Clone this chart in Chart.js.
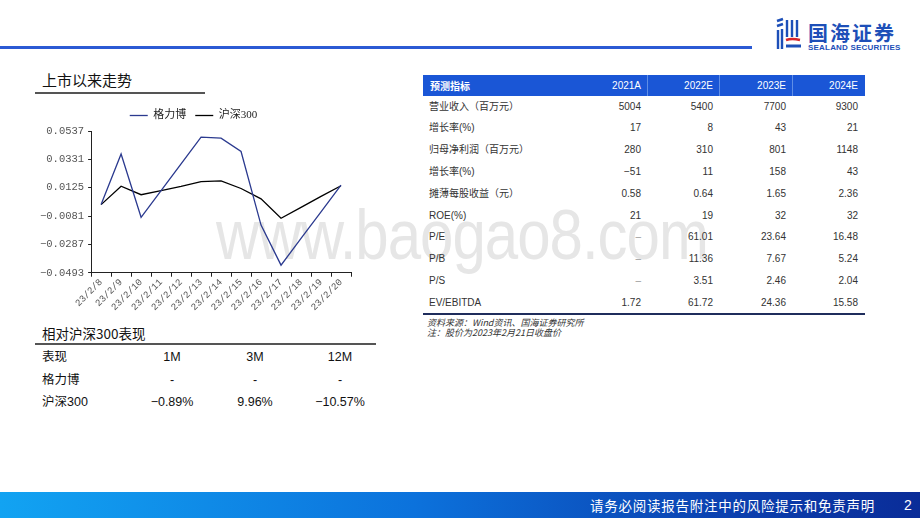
<!DOCTYPE html>
<html>
<head>
<meta charset="utf-8">
<script src="https://cdn.jsdelivr.net/npm/chart.js@4.4.1/dist/chart.umd.min.js"></script>
<style>
  body { margin: 0; }
  #page {
    position: relative; width: 920px; height: 518px; overflow: hidden; background: #fff;
    font-family: 'Liberation Sans', 'Noto Sans CJK SC', sans-serif; color: #222;
  }
  .abs { position: absolute; white-space: nowrap; }
  #topline { left: 0; top: 46px; width: 752px; height: 3px; background: #2b5ad4; }
  #watermark {
    left: 216px; top: 194px; font-size: 60px; color: #e6e6e6; letter-spacing: -1px;
    font-family: 'Liberation Sans', sans-serif; transform: scaleY(1.18); transform-origin: left top;
  }
  #title1 { left: 42px; top: 70px; font-size: 15px; font-family: 'Noto Sans CJK SC'; color: #111; line-height: 20px; }
  #line1 { left: 35px; top: 92px; width: 170px; height: 1.5px; background: #555; }
  #chartbox { left: 36px; top: 101px; width: 321px; height: 212px; }
  #title2 { left: 42px; top: 324px; font-size: 13.5px; font-family: 'Noto Sans CJK SC'; color: #111; line-height: 18px; }
  #line2 { left: 35px; top: 343px; width: 341px; height: 1.5px; background: #555; }
  .perf { font-size: 12.5px; color: #111; line-height: 16px; }
  #ftable { left: 423px; top: 75px; width: 442px; }
  .hdr { position: absolute; top: 0; height: 21px; background: #1a56d6; }
  .htx { position: absolute; top: 0; line-height: 21px; font-size: 10px; color: #fff; }
  .cell { position: absolute; font-size: 10px; color: #333; line-height: 14px; }
  #botline { left: 423px; top: 313px; width: 442px; height: 2px; background: #1f2d5c; }
  .note { left: 427px; font-size: 9px; font-style: italic; color: #333; line-height: 11px; font-family: 'Noto Sans CJK SC'; }
  #footer {
    left: 0; top: 492px; width: 920px; height: 26px;
    background: linear-gradient(90deg, #12a3f2 0%, #0c72dc 45%, #0b3fae 80%, #0a2c98 100%);
  }
  #foottext { left: 590px; top: 496px; font-size: 13.5px; letter-spacing: 0.75px; color: #fff; line-height: 18px; font-family: 'Noto Sans CJK SC'; }
  #pagenum { left: 904px; top: 496px; font-size: 14px; color: #fff; line-height: 18px; }
</style>
</head>
<body>
<div id="page">
  <div id="watermark" class="abs">www.baogao8.com</div>
  <div id="topline" class="abs"></div>

  <!-- logo -->
  <svg class="abs" style="left:775px;top:17px" width="28" height="34" viewBox="0 0 28 34">
    <path d="M2 4 L8 2 M2 9 L8 7" stroke="#1d4fb8" stroke-width="2.6" fill="none"/>
    <path d="M3 13 L3 32 M7 12 L7 32" stroke="#1d4fb8" stroke-width="2.4" fill="none"/>
    <path d="M12 3 L12 20 M17 3 L17 20 M22 3 L22 20" stroke="#1d4fb8" stroke-width="2.4" fill="none"/>
    <path d="M11 23 Q17 21 25 23" stroke="#d8262b" stroke-width="2.6" fill="none"/>
    <path d="M11 29 L26 29" stroke="#1d4fb8" stroke-width="3" fill="none"/>
  </svg>
  <div class="abs" style="left:808px;top:21px;font-size:20px;font-weight:bold;color:#1d4fb8;line-height:24px;font-family:'Noto Sans CJK SC';letter-spacing:2px">国海证券</div>
  <div class="abs" style="left:808px;top:43px;font-size:8px;font-weight:bold;color:#1d4fb8;line-height:9px;letter-spacing:0.2px">SEALAND SECURITIES</div>

  <div id="title1" class="abs">上市以来走势</div>
  <div id="line1" class="abs"></div>
  <div id="chartbox" class="abs"><canvas id="chart-line"></canvas></div>

  <div id="title2" class="abs">相对沪深300表现</div>
  <div id="line2" class="abs"></div>
  <div id="perf"></div>

  <div id="ftable" class="abs"></div>
  <div id="botline" class="abs"></div>
  <div class="abs note" style="top:317px">资料来源：Wind资讯、国海证券研究所</div>
  <div class="abs note" style="top:327px">注：股价为2023年2月21日收盘价</div>

  <div id="footer" class="abs"></div>
  <div id="foottext" class="abs">请务必阅读报告附注中的风险提示和免责声明</div>
  <div id="pagenum" class="abs">2</div>
</div>

<script>
// ─── data ────────────────────────────────────────────────────────────────────
const dates = ['23/2/8', '23/2/9', '23/2/10', '23/2/11', '23/2/12', '23/2/13', '23/2/14',
    '23/2/15', '23/2/16', '23/2/17', '23/2/18', '23/2/19', '23/2/20'];
const gelibo = [0.0002, 0.0370, -0.0090, 0.0104, 0.0298, 0.0492, 0.0485,
    0.0388, -0.0147, -0.0438, -0.0244, -0.0050, 0.0144];
const hs300 = [0.0002, 0.0136, 0.0074, 0.0104, 0.0134, 0.0169, 0.0174,
    0.0119, 0.0044, -0.0097, -0.0018, 0.0062, 0.0139];
const yTicks = [-0.0493, -0.0287, -0.0081, 0.0125, 0.0331, 0.0537];

const perfHead = ['表现', '1M', '3M', '12M'];
const perfGelibo = ['格力博', '-', '-', '-'];
const perfHs300 = ['沪深300', '−0.89%', '9.96%', '−10.57%'];

const tableHead = ['预测指标', '2021A', '2022E', '2023E', '2024E'];
const tableLabels = ['营业收入（百万元）', '增长率(%)', '归母净利润（百万元）', '增长率(%)',
    '摊薄每股收益（元）', 'ROE(%)', 'P/E', 'P/B', 'P/S', 'EV/EBITDA'];
const col2021 = ['5004', '17', '280', '−51', '0.58', '21', '–', '–', '–', '1.72'];
const col2022 = ['5400', '8', '310', '11', '0.64', '19', '61.01', '11.36', '3.51', '61.72'];
const col2023 = ['7700', '43', '801', '158', '1.65', '32', '23.64', '7.67', '2.46', '24.36'];
const col2024 = ['9300', '21', '1148', '43', '2.36', '32', '16.48', '5.24', '2.04', '15.58'];

// ─── left performance table ──────────────────────────────────────────────────
const perfBox = document.getElementById('perf');
const perfCols = [42, 172, 255, 340]; // first left, others centres
[perfHead, perfGelibo, perfHs300].forEach((row, r) => {
    row.forEach((txt, c) => {
        const d = document.createElement('div');
        d.className = 'abs perf';
        d.textContent = txt;
        d.style.top = (349 + r * 22.5) + 'px';
        if (c === 0) d.style.left = perfCols[0] + 'px';
        else { d.style.left = (perfCols[c] - 40) + 'px'; d.style.width = '80px'; d.style.textAlign = 'center'; }
        perfBox.appendChild(d);
    });
});

// ─── right forecast table ────────────────────────────────────────────────────
const ft = document.getElementById('ftable');
const rightEdges = [218, 290, 363, 435]; // relative to table left
const seps = [224, 296, 369];
ft.innerHTML = `<div class="hdr" style="left:0;width:442px"></div>`;
seps.forEach(x => { ft.innerHTML += `<div class="abs" style="left:${x}px;top:0;width:1px;height:21px;background:#5f8ee6"></div>`; });
tableHead.forEach((t, i) => {
    if (i === 0) ft.innerHTML += `<div class="htx" style="left:7px;font-weight:bold;font-family:'Noto Sans CJK SC'">${t}</div>`;
    else ft.innerHTML += `<div class="htx" style="left:${rightEdges[i - 1] - 60}px;width:60px;text-align:right">${t}</div>`;
});
const cols = [col2021, col2022, col2023, col2024];
tableLabels.forEach((lab, r) => {
    const top = 24.5 + r * 21.8;
    ft.innerHTML += `<div class="cell" style="left:6px;top:${top}px">${lab}</div>`;
    cols.forEach((col, c) => {
        const dash = col[r] === '–';
        ft.innerHTML += `<div class="cell" style="left:${rightEdges[c] - 60}px;width:60px;text-align:right;top:${top}px;${dash ? 'color:#999' : ''}">${col[r]}</div>`;
    });
});

// ─── LINE CHART: 上市以来走势 ────────────────────────────────────────────────
const charts = {};
const AXIS_FONT = "'Liberation Mono', monospace";

function renderLineChart() {
    const ctx = document.getElementById('chart-line').getContext('2d');
    charts.line = new Chart(ctx, {
        type: 'line',
        data: {
            labels: dates,
            datasets: [
                { label: '格力博', data: gelibo, borderColor: '#2b3a8f', backgroundColor: '#2b3a8f',
                  borderWidth: 1.3, pointRadius: 0, tension: 0 },
                { label: '沪深300', data: hs300, borderColor: '#000', backgroundColor: '#000',
                  borderWidth: 1.3, pointRadius: 0, tension: 0 },
            ]
        },
        options: {
            responsive: true,
            maintainAspectRatio: false,
            animation: false,
            layout: { padding: { left: 0, right: 6, top: 0, bottom: 0 } },
            plugins: {
                legend: {
                    position: 'top',
                    labels: {
                        usePointStyle: true,
                        pointStyle: 'line',
                        pointStyleWidth: 18,
                        color: '#222',
                        padding: 9,
                        font: { family: "'Liberation Serif', 'Noto Sans CJK SC'", size: 11 },
                    }
                },
                tooltip: { enabled: false },
            },
            scales: {
                x: {
                    offset: true,
                    grid: { drawOnChartArea: false, drawTicks: true, tickLength: 4, color: '#222', offset: true },
                    border: { color: '#222', width: 1 },
                    ticks: { color: '#555', minRotation: 45, maxRotation: 45, padding: 0, autoSkip: false,
                             font: { family: AXIS_FONT, size: 9.5 } },
                },
                y: {
                    min: yTicks[0],
                    max: yTicks[yTicks.length - 1],
                    afterBuildTicks: axis => { axis.ticks = yTicks.map(v => ({ value: v })); },
                    grid: { drawOnChartArea: false, drawTicks: true, tickLength: 3, color: '#222' },
                    border: { color: '#222', width: 1 },
                    ticks: { color: '#555', padding: 4,
                             font: { family: AXIS_FONT, size: 10.5 },
                             callback: v => v.toFixed(4).replace('-', '−') },
                }
            }
        }
    });
}

renderLineChart();
</script>
</body>
</html>
